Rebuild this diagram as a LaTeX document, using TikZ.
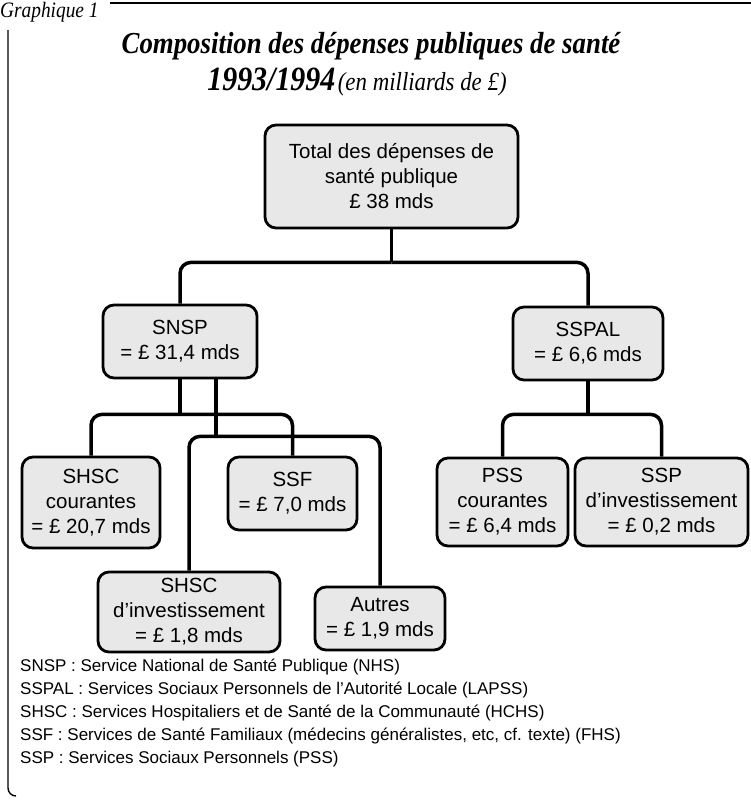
\documentclass[tikz,border=0pt]{standalone}
\usepackage{fontspec}
\setmainfont{Liberation Serif}
\setsansfont{Liberation Sans}
\newfontfamily\titlefont[FakeStretch=0.88]{Liberation Serif}
\definecolor{boxgray}{gray}{0.91}
\newcommand\mymds[1]{%
  = £~#1 mds%
}

\begin{document}
\begin{tikzpicture}[x=1pt,y=-1pt]
  \useasboundingbox (0,0) rectangle (751,801);

  \tikzstyle{box}=[draw,line width=2.8pt,rounded corners=11pt,fill=boxgray,align=center,inner sep=0pt,font=\sffamily\fontsize{20.5}{25}\selectfont]
  \tikzstyle{stem}=[line width=3.5pt]
  \tikzstyle{link}=[line width=3.5pt,rounded corners=11pt]

  \node[anchor=base west,inner sep=0pt,font=\titlefont\itshape\fontsize{22}{22}\selectfont] (label) at (0,17) {Graphique 1};
  \draw[line width=1.6pt] (110,3) -- (751,3);
  \draw[line width=1.4pt,rounded corners=8pt] (8,30) -- (8,796) -- (16,796);

  \node[anchor=base,font=\titlefont\bfseries\itshape\fontsize{30.5}{30}\selectfont] (title1) at (371,53) {Composition des dépenses publiques de santé};
  \node[anchor=base] (title2) at (357,90) {{\titlefont\bfseries\itshape\fontsize{34}{34}\selectfont 1993/1994} {\titlefont\itshape\fontsize{26}{26}\selectfont (en milliards de £)}};

  \node[box,minimum width=253pt,minimum height=103pt] (total) at (391.5,176.5) {Total des dépenses de\\santé publique\\£ 38 mds};

  \node[box,minimum width=154pt,minimum height=73pt] (snsp) at (180,341.5) {SNSP\\\mymds{31,4}};
  \node[box,minimum width=150pt,minimum height=73pt] (sspal) at (588,343.5) {SSPAL\\\mymds{6,6}};

  \node[box,minimum width=138pt,minimum height=91pt] (shscc) at (91,502.5) {SHSC\\courantes\\\mymds{20,7}};
  \node[box,minimum width=129pt,minimum height=73pt] (ssf) at (292.5,493.5) {SSF\\\mymds{7,0}};
  \node[box,minimum width=182pt,minimum height=80pt] (shsci) at (189,612) {SHSC\\d'investissement\\\mymds{1,8}};
  \node[box,minimum width=130pt,minimum height=63pt] (autres) at (380,618.5) {Autres\\\mymds{1,9}};

  \node[box,minimum width=131pt,minimum height=88pt] (pss) at (502.5,502) {PSS\\courantes\\\mymds{6,4}};
  \node[box,minimum width=173pt,minimum height=88pt] (ssp) at (661.5,502) {SSP\\d'investissement\\\mymds{0,2}};

  \foreach \from/\to/\dx/\dy in {total/snsp/0/33, total/sspal/0/33, snsp/shscc/0/35, snsp/ssf/0/35, snsp/shsci/36/57, snsp/autres/36/57, sspal/pss/0/33, sspal/ssp/0/33} {
    \draw[stem] ([xshift=\dx pt]\from.south) -- ++(0,\dy) coordinate (j);
    \draw[link] (j) -| (\to.north);
  }

  \node[anchor=base west,align=left,inner sep=0pt,font=\sffamily\fontsize{17}{23}\selectfont] (legend) at (20,763) {SNSP : Service National de Santé Publique (NHS)\\SSPAL : Services Sociaux Personnels de l'Autorité Locale (LAPSS)\\SHSC : Services Hospitaliers et de Santé de la Communauté (HCHS)\\SSF : Services de Santé Familiaux (médecins généralistes, etc, cf. texte) (FHS)\\SSP : Services Sociaux Personnels (PSS)};
\end{tikzpicture}
\end{document}
